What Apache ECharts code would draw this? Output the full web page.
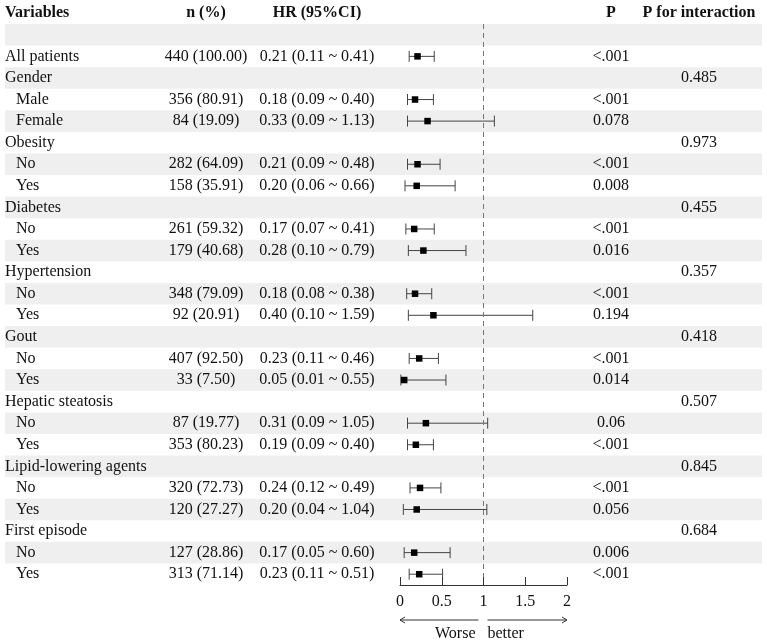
<!DOCTYPE html>
<html>
<head>
<meta charset="utf-8">
<script src="https://cdn.jsdelivr.net/npm/echarts@6/dist/echarts.min.js"></script>
<style>
  html, body { margin: 0; padding: 0; background: #fff; }
  #chart { width: 767px; height: 642px; }
</style>
</head>
<body>
<div id="chart"></div>
<script>
// table rows (row 0 is the blank shaded row under the header)
const labels = ["", "All patients", "Gender", "Male", "Female", "Obesity", "No", "Yes",
  "Diabetes", "No", "Yes", "Hypertension", "No", "Yes", "Gout", "No", "Yes",
  "Hepatic steatosis", "No", "Yes", "Lipid-lowering agents", "No", "Yes",
  "First episode", "No", "Yes"];
const isSub = [0, 0, 0, 1, 1, 0, 1, 1, 0, 1, 1, 0, 1, 1, 0, 1, 1, 0, 1, 1, 0, 1, 1, 0, 1, 1];
const nPct = ["", "440 (100.00)", "", "356 (80.91)", "84 (19.09)", "", "282 (64.09)", "158 (35.91)",
  "", "261 (59.32)", "179 (40.68)", "", "348 (79.09)", "92 (20.91)", "", "407 (92.50)", "33 (7.50)",
  "", "87 (19.77)", "353 (80.23)", "", "320 (72.73)", "120 (27.27)", "", "127 (28.86)", "313 (71.14)"];
const hr = [null, 0.21, null, 0.18, 0.33, null, 0.21, 0.20, null, 0.17, 0.28, null, 0.18, 0.40,
  null, 0.23, 0.05, null, 0.31, 0.19, null, 0.24, 0.20, null, 0.17, 0.23];
const lower = [null, 0.11, null, 0.09, 0.09, null, 0.09, 0.06, null, 0.07, 0.10, null, 0.08, 0.10,
  null, 0.11, 0.01, null, 0.09, 0.09, null, 0.12, 0.04, null, 0.05, 0.11];
const upper = [null, 0.41, null, 0.40, 1.13, null, 0.48, 0.66, null, 0.41, 0.79, null, 0.38, 1.59,
  null, 0.46, 0.55, null, 1.05, 0.40, null, 0.49, 1.04, null, 0.60, 0.51];
const pVal = ["", "<.001", "", "<.001", "0.078", "", "<.001", "0.008", "", "<.001", "0.016", "",
  "<.001", "0.194", "", "<.001", "0.014", "", "0.06", "<.001", "", "<.001", "0.056", "", "0.006", "<.001"];
const pInter = ["", "", "0.485", "", "", "0.973", "", "", "0.455", "", "", "0.357", "", "", "0.418",
  "", "", "0.507", "", "", "0.845", "", "", "0.684", "", ""];
const headers = ["Variables", "n (%)", "HR (95%CI)", "P", "P for interaction"];
const xTicks = [0, 0.5, 1, 1.5, 2];

const FAMILY = "'Liberation Serif', 'DejaVu Serif', serif";
const FONT = "16px " + FAMILY;
const BOLD = "bold 16px " + FAMILY;
const TXT = "#111";

// column anchors in px
const COL = { varX: 5, subX: 16, nX: 206, hrX: 317, pX: 611, piX: 699 };

const rows = labels.map((_, i) => i);
const hrText = hr.map((v, i) => v == null ? "" :
  `${v.toFixed(2)} (${lower[i].toFixed(2)} ~ ${upper[i].toFixed(2)})`);

const chart = echarts.init(document.getElementById("chart"), null, { renderer: "canvas" });

function txt(text, x, y, align, font) {
  return { type: "text", silent: true,
    style: { text, x, y, align, verticalAlign: "middle", font: font || FONT, fill: TXT } };
}

chart.setOption({
  animation: false,
  grid: { left: 400, right: 200, top: 24, bottom: 57, containLabel: false },
  xAxis: {
    type: "value", min: 0, max: 2, interval: 0.5, z: 5,
    axisLine: { show: true, onZero: false, lineStyle: { color: "#333", width: 1 } },
    axisTick: { show: true, inside: true, length: 8, lineStyle: { color: "#333" } },
    axisLabel: { margin: 9, color: "#111", fontSize: 16, fontFamily: FAMILY,
      formatter: (v) => xTicks.includes(v) ? String(v) : "" },
    splitLine: { show: false }
  },
  yAxis: { type: "value", inverse: true, min: -0.5, max: 25.5, show: false },
  series: [
    // shaded bands on alternate rows
    {
      type: "custom", z: 1, silent: true,
      data: rows.filter((i) => i % 2 === 0),
      renderItem: (params, api) => {
        const r = api.value(0);
        const y0 = api.coord([0, r - 0.5])[1];
        const y1 = api.coord([0, r + 0.5])[1];
        return { type: "rect", shape: { x: 5, y: y0, width: 757, height: y1 - y0 },
          style: { fill: "#efefef" } };
      }
    },
    // table text columns
    {
      type: "custom", z: 3, silent: true,
      data: [-1].concat(rows),
      renderItem: (params, api) => {
        const r = api.value(0);
        const y = api.coord([0, r])[1];
        if (r === -1) {
          return { type: "group", children: [
            txt(headers[0], COL.varX, y, "left", BOLD),
            txt(headers[1], COL.nX, y, "center", BOLD),
            txt(headers[2], COL.hrX, y, "center", BOLD),
            txt(headers[3], COL.pX, y, "center", BOLD),
            txt(headers[4], COL.piX, y, "center", BOLD)
          ] };
        }
        return { type: "group", children: [
          txt(labels[r], isSub[r] ? COL.subX : COL.varX, y, "left"),
          txt(nPct[r], COL.nX, y, "center"),
          txt(hrText[r], COL.hrX, y, "center"),
          txt(pVal[r], COL.pX, y, "center"),
          txt(pInter[r], COL.piX, y, "center")
        ] };
      }
    },
    // forest: CI whiskers + point estimates
    {
      type: "custom", z: 4, silent: true,
      data: rows.filter((i) => hr[i] != null).map((i) => [hr[i], i, lower[i], upper[i]]),
      renderItem: (params, api) => {
        const c = api.coord([api.value(0), api.value(1)]);
        const lo = api.coord([api.value(2), api.value(1)]);
        const hi = api.coord([api.value(3), api.value(1)]);
        const ls = { stroke: "#444", lineWidth: 1 };
        const cap = 5.5, s = 6.5;
        return { type: "group", children: [
          { type: "line", shape: { x1: lo[0], y1: c[1], x2: hi[0], y2: c[1] }, style: ls },
          { type: "line", shape: { x1: lo[0], y1: c[1] - cap, x2: lo[0], y2: c[1] + cap }, style: ls },
          { type: "line", shape: { x1: hi[0], y1: c[1] - cap, x2: hi[0], y2: c[1] + cap }, style: ls },
          { type: "rect", shape: { x: c[0] - s / 2, y: c[1] - s / 2, width: s, height: s },
            style: { fill: "#000" } }
        ] };
      },
      markLine: {
        silent: true, symbol: "none", label: { show: false },
        lineStyle: { color: "#777", width: 1, type: [5, 4] },
        data: [{ xAxis: 1 }]
      }
    },
    // direction arrows under the axis
    {
      type: "custom", z: 3, silent: true,
      data: [[0]],
      renderItem: (params, api) => {
        const yb = api.coord([0, 25.5])[1];
        const x0 = api.coord([0, 0])[0];
        const x1 = api.coord([1, 0])[0];
        const x2 = api.coord([2, 0])[0];
        const ya = yb + 35, yt = yb + 49;
        const ls = { stroke: "#333", lineWidth: 1, fill: null };
        return { type: "group", children: [
          { type: "line", shape: { x1: x1 - 5, y1: ya, x2: x0, y2: ya }, style: ls },
          { type: "polyline", shape: { points: [[x0 + 5, ya - 3], [x0, ya], [x0 + 5, ya + 3]] }, style: ls },
          { type: "line", shape: { x1: x1 + 4, y1: ya, x2: x2, y2: ya }, style: ls },
          { type: "polyline", shape: { points: [[x2 - 5, ya - 3], [x2, ya], [x2 - 5, ya + 3]] }, style: ls },
          txt("Worse", x1 - 8, yt, "right"),
          txt("better", x1 + 4, yt, "left")
        ] };
      }
    }
  ]
});
</script>
</body>
</html>
